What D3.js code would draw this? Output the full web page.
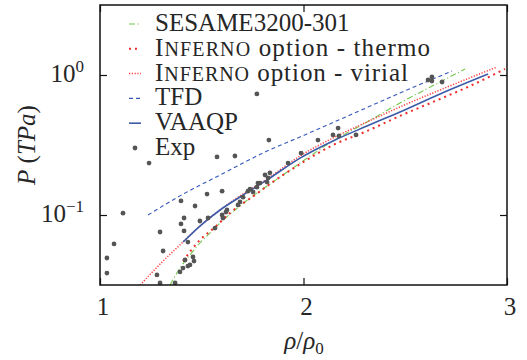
<!DOCTYPE html>
<html>
<head>
<meta charset="utf-8">
<script src="https://cdn.jsdelivr.net/npm/d3@7/dist/d3.min.js"></script>
</head>
<body style="margin:0">
<svg id="chart" width="527" height="360"></svg>
<script>
// Compression ratio rho/rho0 and pressure in TPa for each model curve
const sesameRho = [1.344, 1.393, 1.442, 1.491, 1.541, 1.590, 1.663, 1.737, 1.821, 1.899, 1.983, 2.145, 2.312, 2.474, 2.671, 2.794];
const sesameP   = [0.0316, 0.0418, 0.0518, 0.0631, 0.0744, 0.0877, 0.1086, 0.132, 0.161, 0.193, 0.235, 0.338, 0.462, 0.631, 0.891, 1.104];

const thermoRho = [1.408, 1.491, 1.565, 1.639, 1.762, 1.835, 1.983, 2.145, 2.312, 2.474, 2.671, 2.818, 2.990];
const thermoP   = [0.0469, 0.0663, 0.082, 0.1033, 0.139, 0.1665, 0.231, 0.316, 0.398, 0.51, 0.674, 0.834, 1.104];

const virialRho = [1.197, 1.310, 1.408, 1.491, 1.590, 1.688, 1.821, 1.983, 2.145, 2.312, 2.474, 2.671, 2.951];
const virialP   = [0.0316, 0.0469, 0.0641, 0.0834, 0.1086, 0.137, 0.181, 0.264, 0.355, 0.462, 0.591, 0.782, 1.14];

const tfdRho = [1.236, 1.393, 1.590, 1.821, 1.983, 2.229, 2.474, 2.730];
const tfdP   = [0.100, 0.137, 0.193, 0.286, 0.361, 0.518, 0.743, 1.068];

const vaaqpRho = [1.408, 1.491, 1.590, 1.688, 1.821, 1.983, 2.145, 2.312, 2.474, 2.671, 2.907];
const vaaqpP   = [0.0641, 0.0834, 0.1086, 0.1345, 0.178, 0.255, 0.338, 0.432, 0.544, 0.732, 1.016];

// Experimental shock data
const expRho = [1.771, 1.830, 1.241, 1.575, 1.663, 1.988, 2.071, 1.113, 1.069, 1.034, 1.034,
                1.398, 1.526, 1.467, 1.600, 1.295, 1.413, 1.398, 1.413, 1.491, 1.310, 1.280,
                1.295, 1.369, 1.418, 1.432, 1.442, 1.457, 1.462, 1.408, 1.393, 1.565, 1.600,
                1.604, 1.624, 1.678, 1.688, 1.727, 1.737, 1.752, 1.771, 1.776, 1.786, 1.811,
                1.826, 1.821, 1.835, 1.924, 2.145, 2.170, 2.174, 2.258, 2.612, 2.631, 2.631,
                2.681, 1.703, 1.432, 1.531, 1.619];
const expP   = [0.732, 0.343, 0.235, 0.260, 0.264, 0.277, 0.343, 0.103, 0.0621, 0.0493, 0.0385,
                0.126, 0.141, 0.116, 0.148, 0.0756, 0.0952, 0.0863, 0.0769, 0.0906, 0.0553, 0.0373,
                0.0327, 0.0327, 0.0477, 0.0432, 0.0440, 0.0501, 0.0469, 0.0418, 0.0392, 0.0807, 0.100,
                0.0952, 0.1086, 0.118, 0.124, 0.148, 0.153, 0.146, 0.158, 0.169, 0.169, 0.193,
                0.184, 0.172, 0.200, 0.235, 0.373, 0.418, 0.367, 0.373, 0.921, 0.968, 0.906,
                0.891, 0.134, 0.0641, 0.0952, 0.105];

const xTicks = [1, 2, 3];
const yTicks = [0.1, 1];
const yTickExps = ["\u22121", "0"];

const legendLabels = ["SESAME3200-301", "INFERNO option - thermo", "INFERNO option - virial", "TFD", "VAAQP", "Exp"];

const FONT = "Liberation Serif";
const INK = "#262626";

const svg = d3.select("#chart");
const plotL = 100, plotR = 507, plotT = 5, plotB = 285;

const x = d3.scaleLinear().domain([1, 3]).range([plotL, plotR]);
const y = d3.scaleLog().domain([Math.pow(10, -1.5), Math.pow(10, 0.5)]).range([plotB, plotT]);

// Text helper: every label carries its own face and colour
function label(parent, px, py, size) {
  return parent.append("text")
    .attr("x", px).attr("y", py)
    .attr("font-size", size)
    .attr("font-family", FONT)
    .attr("fill", INK);
}

svg.append("defs").append("clipPath").attr("id", "plotClip")
  .append("rect").attr("x", plotL).attr("y", plotT).attr("width", plotR - plotL).attr("height", plotB - plotT);

const zip = (a, b) => a.map((v, i) => [v, b[i]]);
const line = d3.line().x(d => x(d[0])).y(d => y(d[1])).curve(d3.curveMonotoneX);

const series = [
  { rho: sesameRho, p: sesameP, color: "#74c84c", width: 1.1, dash: "6,2.5,1.2,2.5" },
  { rho: thermoRho, p: thermoP, color: "#ee2b2b", width: 2, dash: "2,4" },
  { rho: virialRho, p: virialP, color: "#ff3b3b", width: 1.5, dash: "1.2,1.6" },
  { rho: tfdRho, p: tfdP, color: "#3558bb", width: 1.1, dash: "4,3" },
  { rho: vaaqpRho, p: vaaqpP, color: "#3b5ba8", width: 1.6, dash: null }
];

const plot = svg.append("g").attr("clip-path", "url(#plotClip)");
series.forEach(s => {
  plot.append("path")
    .datum(zip(s.rho, s.p))
    .attr("d", line)
    .attr("fill", "none")
    .attr("stroke", s.color)
    .attr("stroke-width", s.width)
    .attr("stroke-dasharray", s.dash);
});

plot.selectAll("circle.exp")
  .data(zip(expRho, expP))
  .join("circle")
  .attr("class", "exp")
  .attr("cx", d => x(d[0]))
  .attr("cy", d => y(d[1]))
  .attr("r", 2.4)
  .attr("fill", "#555");

// Inward ticks on all four sides
const tickLen = 7;
const tickGroups = [
  [d3.axisBottom(x).tickValues(xTicks), `translate(0,${plotB})`],
  [d3.axisTop(x).tickValues(xTicks), `translate(0,${plotT})`],
  [d3.axisLeft(y).tickValues(yTicks), `translate(${plotL},0)`],
  [d3.axisRight(y).tickValues(yTicks), `translate(${plotR},0)`]
];
tickGroups.forEach(([ax, tr]) => {
  svg.append("g").attr("transform", tr)
    .call(ax.tickSize(-tickLen).tickFormat(""))
    .call(g => g.select(".domain").remove())
    .call(g => g.selectAll("text").remove())
    .attr("font-family", null);
});
svg.selectAll(".tick line").attr("stroke", "#111").attr("stroke-width", 1.2);

// Frame
svg.append("rect")
  .attr("x", plotL).attr("y", plotT).attr("width", plotR - plotL).attr("height", plotB - plotT)
  .attr("fill", "none").attr("stroke", "#111").attr("stroke-width", 1.5);

// Tick labels
xTicks.forEach(v => {
  label(svg, x(v) + 3, 315, 25).attr("text-anchor", "middle").text(v);
});

yTicks.forEach((v, i) => {
  const t = label(svg, 84, y(v) + 7, 25).attr("text-anchor", "end");
  t.append("tspan").text("10");
  t.append("tspan").attr("dy", -10).attr("font-size", 17).text(yTickExps[i]);
});

// Axis titles
const xt = label(svg, 304, 349, 25).attr("text-anchor", "middle");
xt.append("tspan").attr("font-style", "italic").text("\u03c1");
xt.append("tspan").text("/");
xt.append("tspan").attr("font-style", "italic").text("\u03c1");
xt.append("tspan").attr("dy", 5).attr("font-size", 17).text("0");

const yt = label(svg, 0, 0, 25)
  .attr("transform", "translate(35,145) rotate(-90)")
  .attr("text-anchor", "middle");
yt.append("tspan").attr("font-style", "italic").text("P");
yt.append("tspan").text(" (");
yt.append("tspan").attr("font-style", "italic").text("TPa");
yt.append("tspan").text(")");

// Legend; the two small-caps lines are spread to their typeset width
const legendBase = [31, 55.8, 80.6, 105.4, 130.2, 155];
const legendWidth = [null, 275, 253, null, null, null];
legendLabels.forEach((lab, i) => {
  const yb = legendBase[i];
  const ys = yb - 7;
  if (i < 5) {
    const s = series[i];
    svg.append("line")
      .attr("x1", 129).attr("x2", 141).attr("y1", ys).attr("y2", ys)
      .attr("stroke", s.color).attr("stroke-width", s.width)
      .attr("stroke-dasharray", s.dash);
  } else {
    svg.append("circle").attr("cx", 135).attr("cy", ys).attr("r", 2.4).attr("fill", "#555");
  }
  const t = label(svg, 155, yb, 25);
  if (legendWidth[i]) {
    t.attr("textLength", legendWidth[i]).attr("lengthAdjust", "spacing");
  }
  if (lab.startsWith("INFERNO")) {
    t.append("tspan").text("I");
    t.append("tspan").attr("font-size", 20).text("NFERNO");
    t.append("tspan").text(lab.slice(7));
  } else {
    t.text(lab);
  }
});
</script>
</body>
</html>
